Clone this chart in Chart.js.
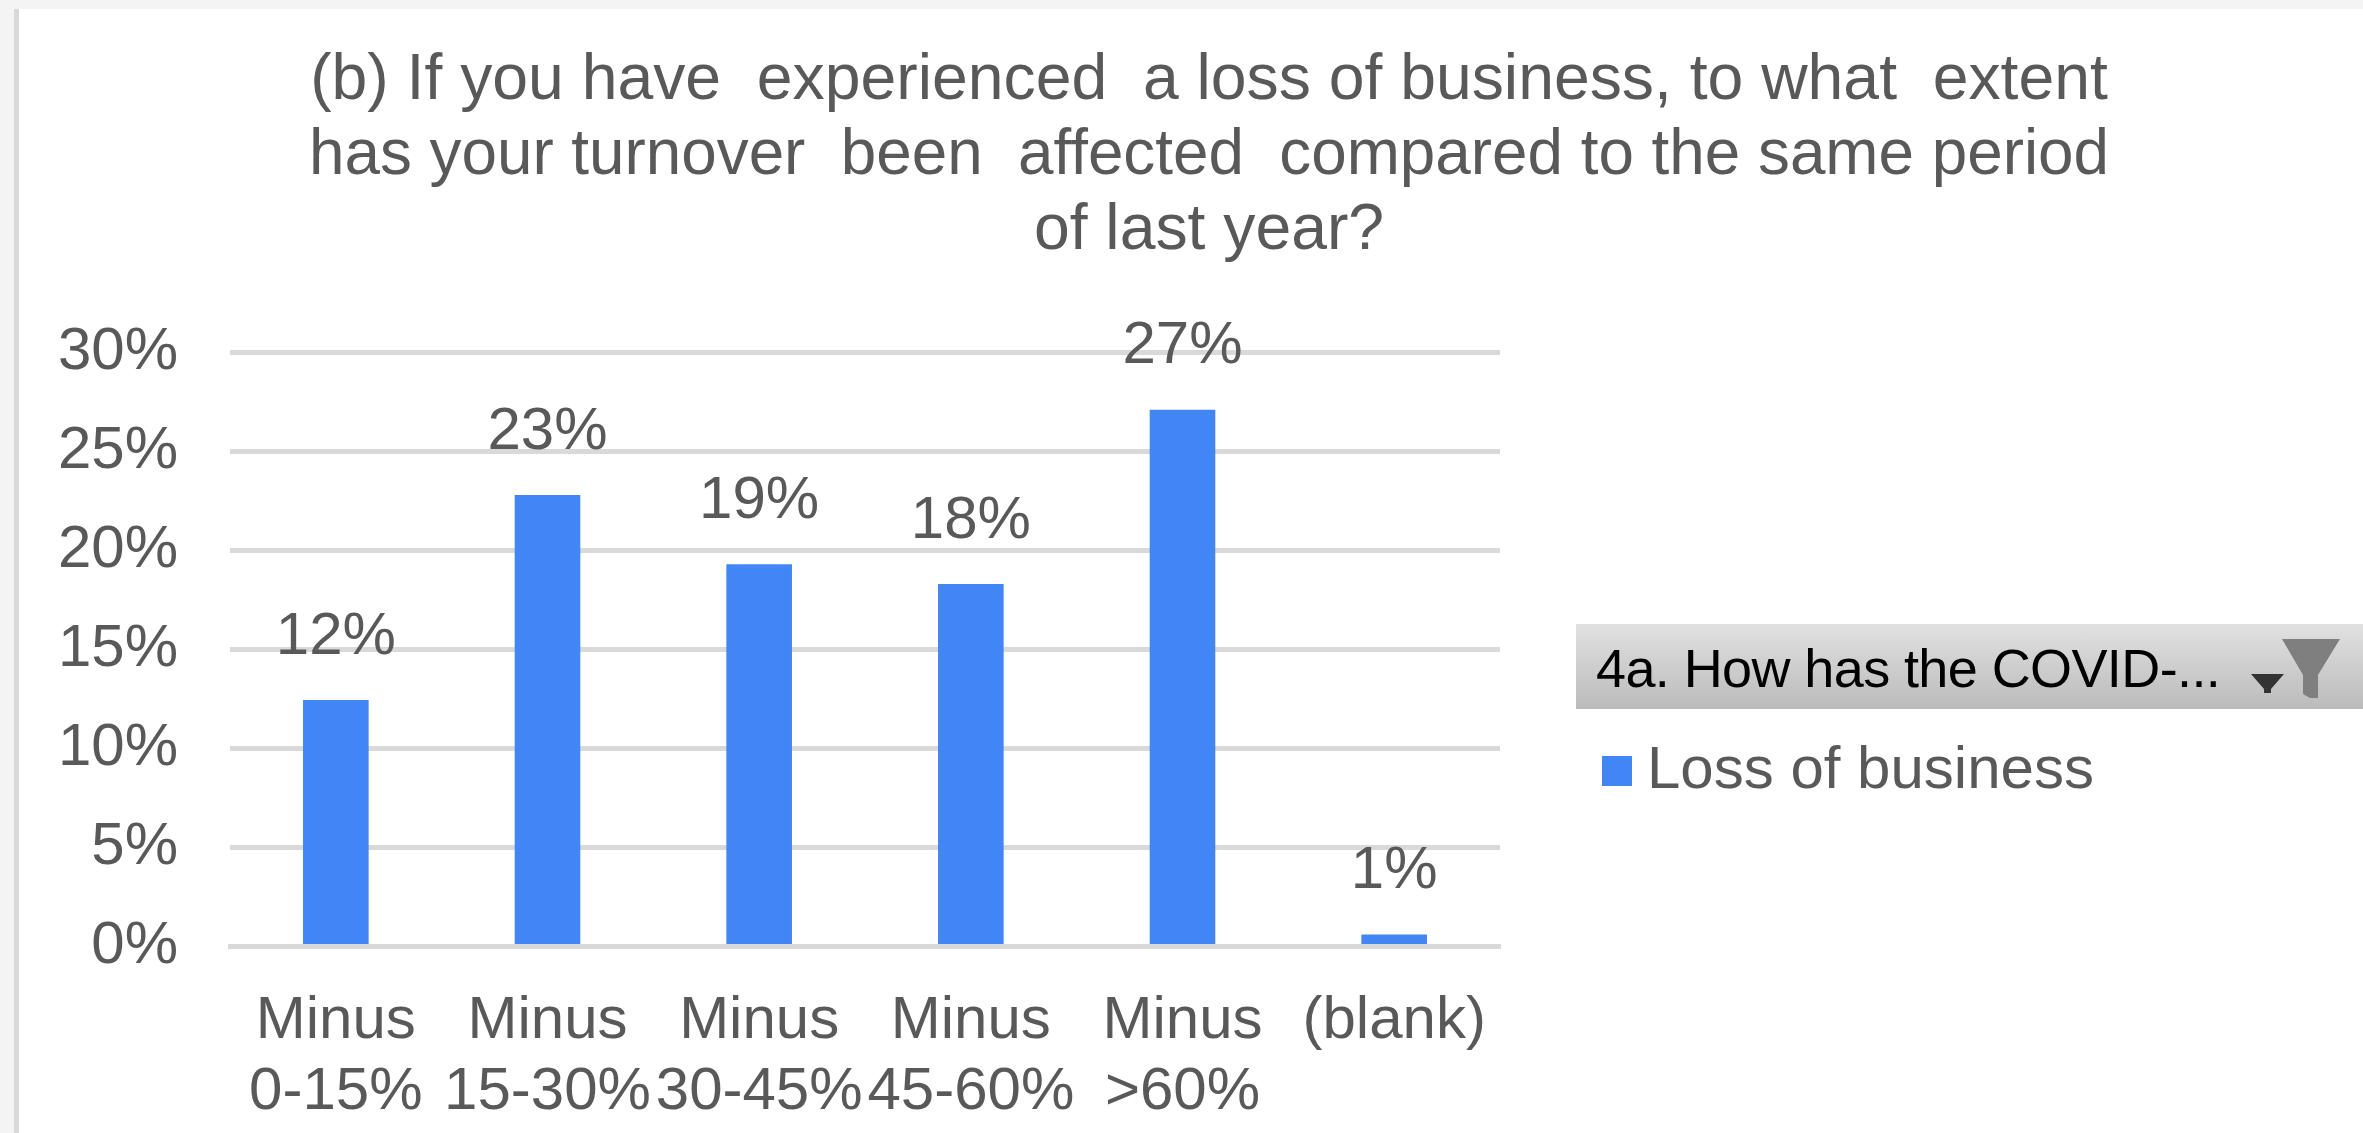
<!DOCTYPE html>
<html><head><meta charset="utf-8">
<script src="https://cdn.jsdelivr.net/npm/chart.js@4/dist/chart.umd.min.js"></script>
<style>
html,body{margin:0;padding:0;width:2363px;height:1133px;overflow:hidden;background:#f4f4f4}
#frame{position:absolute;left:14px;top:9px;right:0;bottom:0;background:#fff;border-left:5px solid #d9d9d9}
canvas{position:absolute;left:0;top:0}
#filter{position:absolute;left:1576px;top:624px;width:787px;height:85px;background:linear-gradient(#e1e1e1,#bbbbbb);overflow:hidden}
#filter span{position:absolute;left:20px;top:17px;font:54px/54px "Liberation Sans";color:#000;letter-spacing:-0.6px;white-space:nowrap}
#filter svg{position:absolute;left:0;top:0}
</style></head><body>
<div id="frame"></div>
<canvas id="c" width="2363" height="1133"></canvas>
<div id="filter"><span>4a. How has the COVID-...</span>
<svg width="787" height="85"><path d="M675 50h33l-13 15v4h-7v-4z" fill="#333"/><path d="M706 15h58l-22 36v23h-8l-7-4v-19z" fill="#7f7f7f"/></svg></div>
<script>
const categories = [["Minus","0-15%"],["Minus","15-30%"],["Minus","30-45%"],["Minus","45-60%"],["Minus",">60%"],"(blank)"];
const seriesName = "Loss of business";
const values = [12.45, 22.8, 19.3, 18.3, 27.1, 0.6];
const titleLines = ["(b) If you have  experienced  a loss of business, to what  extent","has your turnover  been  affected  compared to the same period","of last year?"];
const GREY = "#595959", LINE = "#d9d9d9", BLUE = "#4285f4", FONT = "Liberation Sans";

const swatch = document.createElement("canvas");
swatch.width = 30; swatch.height = 30;
const sctx = swatch.getContext("2d");
sctx.fillStyle = BLUE; sctx.fillRect(0, 0, 30, 30);

const placement = {
  id: "placement",
  afterLayout(chart) {
    const t = chart.titleBlock;
    t.left = 309; t.right = 2109;
    const l = chart.legend;
    const w = l.width, h = l.height;
    l.left = 1590; l.right = l.left + w;
    l.top = 715; l.bottom = l.top + h;
  }
};
const barLabels = {
  id: "barLabels",
  afterDatasetsDraw(chart) {
    const ctx = chart.ctx, meta = chart.getDatasetMeta(0);
    ctx.save();
    ctx.fillStyle = GREY;
    ctx.font = "60px '" + FONT + "'";
    ctx.textAlign = "center";
    ctx.textBaseline = "middle";
    meta.data.forEach((bar, i) => {
      ctx.fillText(Math.round(values[i]) + "%", bar.x, bar.y - 63);
    });
    ctx.restore();
  }
};
new Chart(document.getElementById("c"), {
  type: "bar",
  data: { labels: categories, datasets: [{ label: seriesName, data: values, backgroundColor: BLUE,
    barPercentage: 0.31, categoryPercentage: 1 }] },
  plugins: [placement, barLabels],
  options: {
    responsive: false, animation: false,
    layout: { padding: { left: 0, right: 863, top: 0, bottom: 0 } },
    plugins: {
      title: { display: true, text: titleLines, color: GREY, font: { family: FONT, size: 64.3, weight: "normal", lineHeight: 1.166 },
        padding: { top: 44, bottom: 83.5 } },
      legend: { position: "chartArea", align: "start",
        labels: { color: GREY, font: { family: FONT, size: 60 }, usePointStyle: true, pointStyle: swatch, boxWidth: 1, boxHeight: 30, padding: 26 } },
      tooltip: { enabled: false }
    },
    scales: {
      x: {
        grid: { display: false },
        border: { display: true, color: LINE, width: 5, z: 1 },
        ticks: { color: GREY, font: { family: FONT, size: 60, lineHeight: 1.18 }, autoSkip: false, maxRotation: 0, minRotation: 0, padding: 32 },
        afterFit(s) { s.height = 1133 - 946.5; }
      },
      y: {
        min: 0, max: 30,
        grid: { color: LINE, lineWidth: 5, drawTicks: false },
        border: { display: false },
        ticks: { stepSize: 5, color: GREY, font: { family: FONT, size: 60 }, padding: 52, callback: v => v + "%" },
        afterFit(s) { s.width = 230; }
      }
    }
  }
});
</script>
</body></html>
